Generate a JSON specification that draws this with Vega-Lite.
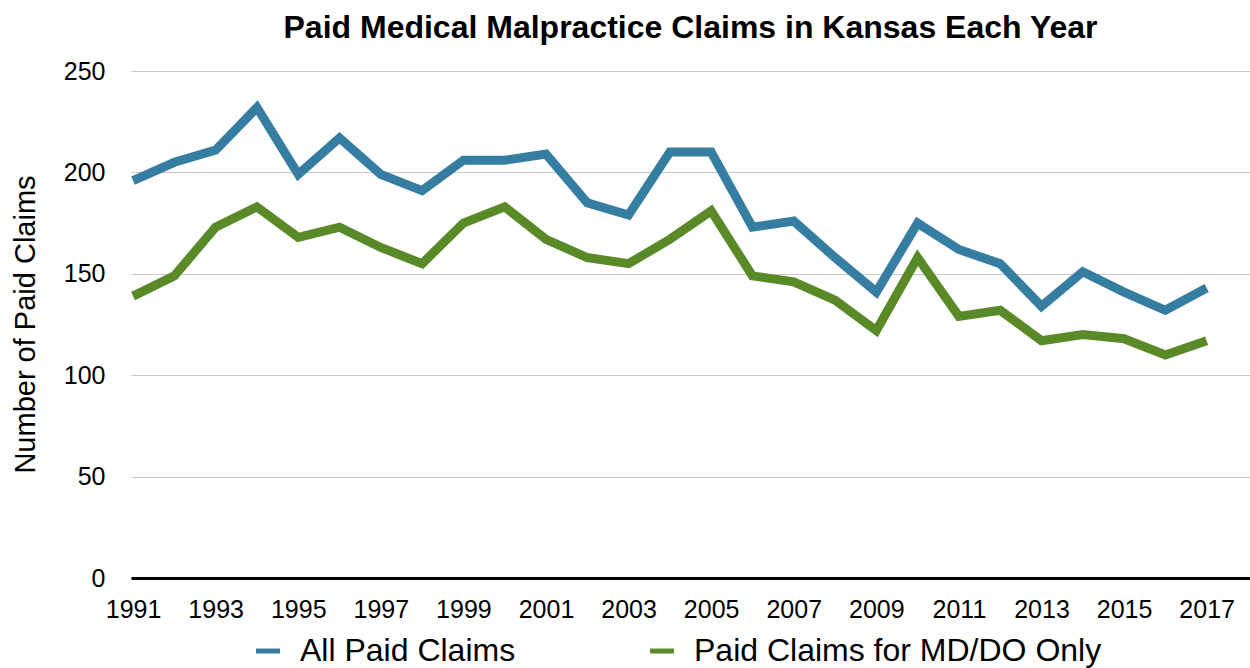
{
  "$schema": "https://vega.github.io/schema/vega-lite/v6.json",
  "autosize": "none",
  "padding": {"left": 131, "top": 71, "right": 0, "bottom": 90},
  "width": 1119,
  "height": 507,
  "background": "white",
  "title": {
    "text": "Paid Medical Malpractice Claims in Kansas Each Year",
    "font": "Liberation Sans",
    "fontSize": 32,
    "fontWeight": "bold",
    "color": "black",
    "anchor": "middle",
    "frame": "group",
    "baseline": "bottom",
    "offset": -18
  },
  "config": {
    "font": "Liberation Sans",
    "view": {"stroke": null}
  },
  "data": {
    "values": [
      {"year": 1991, "series": "All Paid Claims", "claims": 196},
      {"year": 1992, "series": "All Paid Claims", "claims": 205},
      {"year": 1993, "series": "All Paid Claims", "claims": 211},
      {"year": 1994, "series": "All Paid Claims", "claims": 232},
      {"year": 1995, "series": "All Paid Claims", "claims": 199},
      {"year": 1996, "series": "All Paid Claims", "claims": 217},
      {"year": 1997, "series": "All Paid Claims", "claims": 199},
      {"year": 1998, "series": "All Paid Claims", "claims": 191},
      {"year": 1999, "series": "All Paid Claims", "claims": 206},
      {"year": 2000, "series": "All Paid Claims", "claims": 206},
      {"year": 2001, "series": "All Paid Claims", "claims": 209},
      {"year": 2002, "series": "All Paid Claims", "claims": 185},
      {"year": 2003, "series": "All Paid Claims", "claims": 179},
      {"year": 2004, "series": "All Paid Claims", "claims": 210},
      {"year": 2005, "series": "All Paid Claims", "claims": 210},
      {"year": 2006, "series": "All Paid Claims", "claims": 173},
      {"year": 2007, "series": "All Paid Claims", "claims": 176},
      {"year": 2008, "series": "All Paid Claims", "claims": 158},
      {"year": 2009, "series": "All Paid Claims", "claims": 141},
      {"year": 2010, "series": "All Paid Claims", "claims": 175},
      {"year": 2011, "series": "All Paid Claims", "claims": 162},
      {"year": 2012, "series": "All Paid Claims", "claims": 155},
      {"year": 2013, "series": "All Paid Claims", "claims": 134},
      {"year": 2014, "series": "All Paid Claims", "claims": 151},
      {"year": 2015, "series": "All Paid Claims", "claims": 141},
      {"year": 2016, "series": "All Paid Claims", "claims": 132},
      {"year": 2017, "series": "All Paid Claims", "claims": 143},
      {"year": 1991, "series": "Paid Claims for MD/DO Only", "claims": 139},
      {"year": 1992, "series": "Paid Claims for MD/DO Only", "claims": 149},
      {"year": 1993, "series": "Paid Claims for MD/DO Only", "claims": 173},
      {"year": 1994, "series": "Paid Claims for MD/DO Only", "claims": 183},
      {"year": 1995, "series": "Paid Claims for MD/DO Only", "claims": 168},
      {"year": 1996, "series": "Paid Claims for MD/DO Only", "claims": 173},
      {"year": 1997, "series": "Paid Claims for MD/DO Only", "claims": 163},
      {"year": 1998, "series": "Paid Claims for MD/DO Only", "claims": 155},
      {"year": 1999, "series": "Paid Claims for MD/DO Only", "claims": 175},
      {"year": 2000, "series": "Paid Claims for MD/DO Only", "claims": 183},
      {"year": 2001, "series": "Paid Claims for MD/DO Only", "claims": 167},
      {"year": 2002, "series": "Paid Claims for MD/DO Only", "claims": 158},
      {"year": 2003, "series": "Paid Claims for MD/DO Only", "claims": 155},
      {"year": 2004, "series": "Paid Claims for MD/DO Only", "claims": 167},
      {"year": 2005, "series": "Paid Claims for MD/DO Only", "claims": 181},
      {"year": 2006, "series": "Paid Claims for MD/DO Only", "claims": 149},
      {"year": 2007, "series": "Paid Claims for MD/DO Only", "claims": 146},
      {"year": 2008, "series": "Paid Claims for MD/DO Only", "claims": 137},
      {"year": 2009, "series": "Paid Claims for MD/DO Only", "claims": 122},
      {"year": 2010, "series": "Paid Claims for MD/DO Only", "claims": 158},
      {"year": 2011, "series": "Paid Claims for MD/DO Only", "claims": 129},
      {"year": 2012, "series": "Paid Claims for MD/DO Only", "claims": 132},
      {"year": 2013, "series": "Paid Claims for MD/DO Only", "claims": 117},
      {"year": 2014, "series": "Paid Claims for MD/DO Only", "claims": 120},
      {"year": 2015, "series": "Paid Claims for MD/DO Only", "claims": 118},
      {"year": 2016, "series": "Paid Claims for MD/DO Only", "claims": 110},
      {"year": 2017, "series": "Paid Claims for MD/DO Only", "claims": 117}
    ]
  },
  "mark": {"type": "line", "strokeWidth": 9, "strokeJoin": "miter", "strokeCap": "butt", "clip": false},
  "encoding": {
    "x": {
      "field": "year",
      "type": "quantitative",
      "scale": {"domain": [1990.95, 2018.05], "nice": false, "zero": false},
      "axis": {
        "values": [1991, 1993, 1995, 1997, 1999, 2001, 2003, 2005, 2007, 2009, 2011, 2013, 2015, 2017],
        "format": "d",
        "title": null,
        "grid": false,
        "ticks": false,
        "tickSize": 0,
        "domainColor": "black",
        "domainWidth": 3,
        "labelFontSize": 25,
        "labelColor": "black",
        "labelPadding": 19,
        "labelFlush": false,
        "labelOverlap": false,
        "zindex": 1
      }
    },
    "y": {
      "field": "claims",
      "type": "quantitative",
      "scale": {"domain": [0, 250], "nice": false},
      "axis": {
        "values": [0, 50, 100, 150, 200, 250],
        "title": "Number of Paid Claims",
        "titleFontSize": 29,
        "titleFontWeight": "normal",
        "titleColor": "black",
        "titleX": -97,
        "titleY": 253,
        "titleAngle": -90,
        "titleBaseline": "alphabetic",
        "titleAlign": "center",
        "grid": true,
        "gridColor": "#c8c8c8",
        "gridWidth": 1,
        "domain": false,
        "ticks": false,
        "tickSize": 0,
        "labelFontSize": 25,
        "labelColor": "black",
        "labelPadding": 26,
        "labelOverlap": false
      }
    },
    "color": {
      "field": "series",
      "type": "nominal",
      "scale": {
        "domain": ["All Paid Claims", "Paid Claims for MD/DO Only"],
        "range": ["#367DA2", "#5A8A28"]
      },
      "legend": {
        "title": null,
        "orient": "none",
        "direction": "horizontal",
        "legendX": 121,
        "legendY": 564,
        "padding": 0,
        "symbolType": "stroke",
        "symbolSize": 576,
        "symbolStrokeWidth": 5,
        "labelFontSize": 32,
        "labelColor": "black",
        "labelOffset": 16,
        "labelLimit": 0,
        "columnPadding": 124
      }
    }
  }
}
